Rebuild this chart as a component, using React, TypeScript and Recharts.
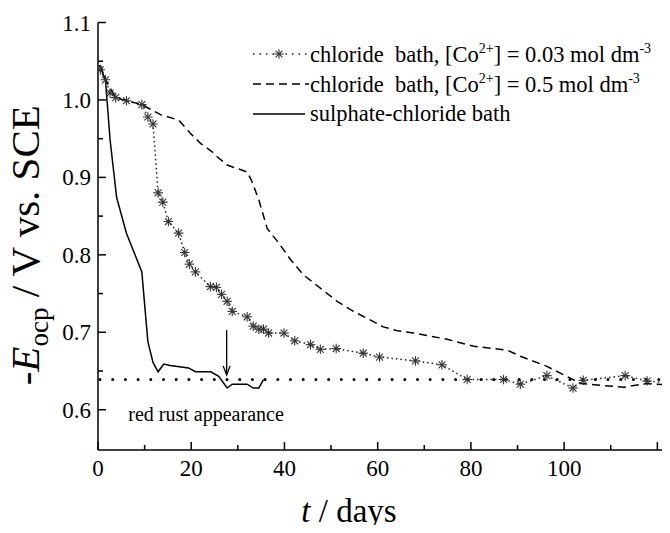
import React from "react";
import { LineChart, Line, XAxis, YAxis, ReferenceLine, Legend } from "recharts";

// chloride bath, [Co2+] = 0.03 mol dm-3 (dotted + stars)
const starDays = [0.5, 1.6, 2.6, 3.8, 6.1, 9.4, 10.7, 11.8, 12.9, 13.9, 15.1, 17.3, 18.6, 19.6, 20.9, 24.1, 25.4, 26.5, 27.7, 28.8, 32.0, 33.3, 34.5, 35.5, 36.6, 39.9, 42.2, 45.6, 47.7, 51.1, 56.9, 60.4, 68.1, 73.8, 79.2, 87.0, 90.6, 96.3, 101.9, 104.1, 113.1, 117.8, 122.1];
const starValues = [1.039, 1.026, 1.009, 1.003, 0.999, 0.994, 0.978, 0.969, 0.880, 0.868, 0.843, 0.828, 0.803, 0.788, 0.778, 0.759, 0.758, 0.749, 0.740, 0.727, 0.720, 0.708, 0.704, 0.704, 0.699, 0.699, 0.689, 0.684, 0.678, 0.679, 0.673, 0.668, 0.663, 0.658, 0.639, 0.639, 0.633, 0.644, 0.628, 0.638, 0.644, 0.637, 0.635];

// chloride bath, [Co2+] = 0.5 mol dm-3 (dashed)
const dashDays = [0.5, 1.6, 3.8, 6.1, 9.4, 13.4, 17.3, 19.8, 22.0, 24.5, 25.5, 27.7, 32.0, 33.0, 34.5, 36.3, 38.8, 41.3, 44.1, 47.7, 51.3, 54.8, 58.4, 61.2, 64.2, 67.7, 74.9, 80.6, 87.8, 90.6, 96.3, 100.6, 103.5, 107.1, 112.8, 117.8, 122.1];
const dashValues = [1.045, 1.026, 1.003, 0.999, 0.994, 0.981, 0.974, 0.957, 0.944, 0.933, 0.927, 0.916, 0.907, 0.895, 0.871, 0.834, 0.815, 0.794, 0.774, 0.757, 0.740, 0.727, 0.716, 0.707, 0.702, 0.699, 0.691, 0.682, 0.677, 0.669, 0.656, 0.643, 0.634, 0.632, 0.629, 0.634, 0.632];

// sulphate-chloride bath (solid)
const solidDays = [0.3, 1.6, 2.6, 4.0, 6.1, 9.4, 10.7, 11.8, 12.9, 14.1, 15.5, 19.4, 20.9, 24.2, 25.9, 27.7, 28.8, 32.0, 33.3, 34.5, 35.5];
const solidValues = [1.045, 1.026, 0.948, 0.874, 0.828, 0.778, 0.688, 0.661, 0.649, 0.659, 0.657, 0.654, 0.649, 0.649, 0.643, 0.628, 0.633, 0.633, 0.628, 0.628, 0.639];

const xTicks = [0, 10, 20, 30, 40, 50, 60, 70, 80, 90, 100, 110, 120];
const yTicks = [0.6, 0.65, 0.7, 0.75, 0.8, 0.85, 0.9, 0.95, 1.0, 1.05, 1.1];
const topTicks = [0, 0.5, 1, 1.5, 2, 2.5, 3, 3.5, 4, 4.5, 5, 5.5];

const rustLevel = 0.639;
const arrowDay = 27.6;
const arrowFrom = 0.703;
const arrowTo = 0.645;
const noteDay = 6.5;
const noteValue = 0.585;
const noteText = "red rust appearance";

const FONT = "'Liberation Serif', 'Times New Roman', serif";

const toPoints = (days: number[], values: number[]) => days.map((t, i) => ({ t, v: values[i] }));
const starData = toPoints(starDays, starValues);
const dashData = toPoints(dashDays, dashValues);
const solidData = toPoints(solidDays, solidValues);

const StarDot = (props: any) => {
  const { cx, cy, index } = props;
  if (cx == null || cy == null) return null;
  const r = 4.8;
  const d = r * 0.72;
  return (
    <g key={`star-${index}`} stroke="#333" strokeWidth={1.1}>
      <line x1={cx - r} y1={cy} x2={cx + r} y2={cy} />
      <line x1={cx} y1={cy - r} x2={cx} y2={cy + r} />
      <line x1={cx - d} y1={cy - d} x2={cx + d} y2={cy + d} />
      <line x1={cx - d} y1={cy + d} x2={cx + d} y2={cy - d} />
    </g>
  );
};

const BottomTick = (props: any) => {
  const { x, y, payload } = props;
  const v = payload.value;
  const major = v % 20 === 0;
  const base = y - 10;
  return (
    <g>
      <line x1={x} x2={x} y1={base} y2={base - (major ? 8 : 5)} stroke="#000" strokeWidth={1.5} />
      {major && v <= 100 && (
        <text x={x} y={y} dy={16} textAnchor="middle" fontFamily={FONT} fontSize={23} fill="#000">
          {v}
        </text>
      )}
    </g>
  );
};

const LeftTick = (props: any) => {
  const { x, y, payload } = props;
  const v = payload.value;
  const major = Math.round(v * 100) % 10 === 0;
  const base = x + 7;
  return (
    <g>
      <line x1={base} x2={base + (major ? 8 : 5)} y1={y} y2={y} stroke="#000" strokeWidth={1.5} />
      {major && (
        <text x={x} y={y} dy={8} textAnchor="end" fontFamily={FONT} fontSize={23} fill="#000">
          {v.toFixed(1)}
        </text>
      )}
    </g>
  );
};

const RightTick = (props: any) => {
  const { x, y, payload } = props;
  const major = Math.round(payload.value * 100) % 10 === 0;
  return <line x1={x} x2={x - (major ? 8 : 5)} y1={y} y2={y} stroke="#000" strokeWidth={1.5} />;
};

const TopTick = (props: any) => {
  const { x, y, payload } = props;
  const major = Number.isInteger(payload.value);
  return <line x1={x} x2={x} y1={y} y2={y + (major ? 8 : 5)} stroke="#000" strokeWidth={1.5} />;
};

const yTitle = (props: any) => {
  const vb = props.viewBox || { x: 8, y: 22.5, width: 90, height: 427.5 };
  const cx = vb.x + 31;
  const cy = vb.y + vb.height / 2 + 9;
  return (
    <text x={cx} y={cy} transform={`rotate(-90 ${cx} ${cy})`} textAnchor="middle" fontFamily={FONT} fontSize={41} fill="#000">
      <tspan>-</tspan>
      <tspan fontStyle="italic">E</tspan>
      <tspan fontSize={27} dy={9}>ocp</tspan>
      <tspan dy={-9}> / V vs. SCE</tspan>
    </text>
  );
};

const xTitle = (props: any) => {
  const vb = props.viewBox || { x: 98, y: 450, width: 578, height: 83 };
  return (
    <text x={349} y={vb.y + 72} textAnchor="middle" fontFamily={FONT} fontSize={33} fill="#000">
      <tspan fontStyle="italic">t</tspan>
      <tspan> / days</tspan>
    </text>
  );
};

const legendRows = [
  { kind: "star", pre: "chloride  bath, [Co", mid: "] = 0.03 mol dm" },
  { kind: "dash", pre: "chloride  bath, [Co", mid: "] = 0.5 mol dm" },
  { kind: "solid", pre: "sulphate-chloride bath", mid: "" },
];

const LegendBox = () => (
  <div style={{ fontFamily: FONT, fontSize: 22.5, color: "#000", whiteSpace: "pre" }}>
    {legendRows.map((row) => (
      <div key={row.kind} style={{ height: 30, display: "flex", alignItems: "center" }}>
        <svg width={58} height={30} style={{ flex: "none" }}>
          {row.kind === "star" && (
            <g>
              <line x1={1} x2={57} y1={15} y2={15} stroke="#222" strokeWidth={1.5} strokeDasharray="1.5 5" />
              <StarDot cx={27} cy={15} index={0} />
            </g>
          )}
          {row.kind === "dash" && <line x1={1} x2={57} y1={15} y2={15} stroke="#000" strokeWidth={1.5} strokeDasharray="8 5" />}
          {row.kind === "solid" && <line x1={1} x2={53} y1={15} y2={15} stroke="#000" strokeWidth={1.5} />}
        </svg>
        <span>
          {row.pre}
          {row.mid && (
            <>
              <span style={{ fontSize: 14, verticalAlign: 9 }}>2+</span>
              {row.mid}
              <span style={{ fontSize: 14, verticalAlign: 9 }}>-3</span>
            </>
          )}
        </span>
      </div>
    ))}
  </div>
);

const ArrowShape = (props: any) => {
  const { x1, y1, x2, y2 } = props;
  if (x1 == null) return null;
  return (
    <g stroke="#000" strokeWidth={1.3} fill="none">
      <line x1={x1} y1={y1} x2={x2} y2={y2} />
      <polyline points={`${x2 - 3.5},${y2 - 9} ${x2},${y2} ${x2 + 3.5},${y2 - 9}`} />
    </g>
  );
};

const NoteShape = (props: any) => {
  const { x1, y1 } = props;
  if (x1 == null) return null;
  return (
    <text x={x1} y={y1} fontFamily={FONT} fontSize={20} fill="#000">
      {noteText}
    </text>
  );
};

export default function App() {
  return (
    <div style={{ margin: -8, width: 670, height: 533, overflow: "hidden", position: "relative" }}>
      <LineChart width={688} height={533} margin={{ top: 22.5, right: 12, bottom: 0, left: 8 }}>
        <XAxis
          xAxisId={0}
          dataKey="t"
          type="number"
          domain={[0, 124]}
          allowDataOverflow
          ticks={xTicks}
          interval={0}
          height={83}
          tickSize={0}
          tickMargin={10}
          tick={<BottomTick />}
          tickLine={false}
          axisLine={{ stroke: "#000", strokeWidth: 1.5 }}
          label={xTitle}
        />
        <XAxis
          xAxisId="top"
          orientation="top"
          type="number"
          domain={[0, 5.505]}
          allowDataOverflow
          ticks={topTicks}
          interval={0}
          height={0}
          tickSize={0}
          tickMargin={0}
          tick={<TopTick />}
          tickLine={false}
          axisLine={{ stroke: "#000", strokeWidth: 1.5 }}
        />
        <YAxis
          yAxisId={0}
          type="number"
          domain={[0.548, 1.1]}
          allowDataOverflow
          ticks={yTicks}
          interval={0}
          width={90}
          tickSize={0}
          tickMargin={7}
          tick={<LeftTick />}
          tickLine={false}
          axisLine={{ stroke: "#000", strokeWidth: 1.5 }}
          label={yTitle}
        />
        <YAxis
          yAxisId="right"
          orientation="right"
          type="number"
          domain={[0.548, 1.1]}
          allowDataOverflow
          ticks={yTicks}
          interval={0}
          width={0}
          tickSize={0}
          tickMargin={0}
          tick={<RightTick />}
          tickLine={false}
          axisLine={{ stroke: "#000", strokeWidth: 1.5 }}
        />
        <ReferenceLine
          y={rustLevel}
          stroke="#000"
          strokeWidth={3}
          strokeDasharray="0 12.7"
          strokeLinecap="round"
          strokeDashoffset={-2}
        />
        <Line
          data={starData}
          dataKey="v"
          name="chloride bath, [Co2+] = 0.03 mol dm-3"
          stroke="#222"
          strokeWidth={1.5}
          strokeDasharray="1.5 3"
          dot={<StarDot />}
          activeDot={false}
          isAnimationActive={false}
        />
        <Line
          data={dashData}
          dataKey="v"
          name="chloride bath, [Co2+] = 0.5 mol dm-3"
          stroke="#000"
          strokeWidth={1.5}
          strokeDasharray="8 5"
          dot={false}
          activeDot={false}
          isAnimationActive={false}
        />
        <Line
          data={solidData}
          dataKey="v"
          name="sulphate-chloride bath"
          stroke="#000"
          strokeWidth={1.5}
          dot={false}
          activeDot={false}
          isAnimationActive={false}
        />
        <ReferenceLine
          segment={[{ x: arrowDay, y: arrowFrom }, { x: arrowDay, y: arrowTo }]}
          shape={<ArrowShape />}
        />
        <ReferenceLine
          segment={[{ x: noteDay, y: noteValue }, { x: noteDay + 1, y: noteValue }]}
          shape={<NoteShape />}
        />
        <Legend
          layout="vertical"
          align="center"
          verticalAlign="middle"
          wrapperStyle={{ left: 252, top: 39, width: 430 }}
          content={() => <LegendBox />}
        />
      </LineChart>
    </div>
  );
}
